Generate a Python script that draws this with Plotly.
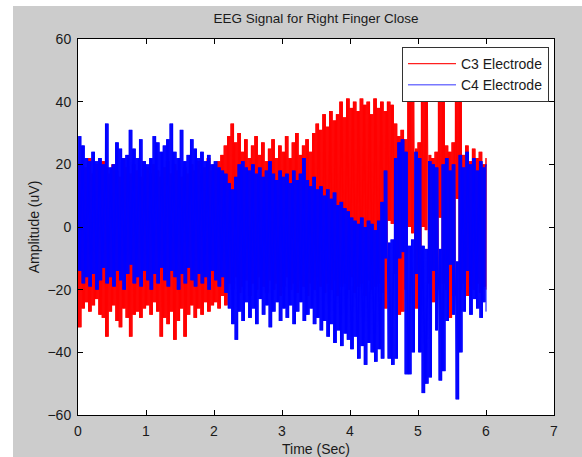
import numpy as np
import plotly.graph_objects as go

# Envelope samples (uV), one per 0.05 s bin, t = 0 .. 6 s
bin_step = 0.05

c3_hi = [20, 18, 19, 22, 17, 20, 18, 21, 19, 17,
         20, 18, 16, 22, 19, 17, 20, 18, 16, 21,
         19, 17, 20, 18, 16, 19, 21, 17, 20, 18,
         16, 19, 17, 20, 18, 21, 17, 19, 22, 18,
         20, 21, 23, 26, 29, 33, 27, 30, 24, 28,
         22, 26, 29, 23, 27, 21, 25, 28, 22, 26,
         24, 29, 22, 27, 30, 23, 26, 28, 24, 30,
         33, 31, 36, 32, 37, 34, 36, 40, 35, 41,
         38, 40, 37, 41, 39, 40, 36, 41, 38, 40,
         37, 40, 39, 33, 29, 31, 28, 43, 42, 25,
         27, 45, 44, 23, 22, 24, 43, 42, 26, 24,
         27, 45, 44, 23, 26, 21, 25, 22, 24, 20,
         22]

c3_lo = [-32, -26, -24, -27, -25, -23, -28, -29, -35, -27,
         -25, -30, -32, -26, -29, -35, -28, -27, -29, -26,
         -25, -28, -24, -27, -35, -29, -31, -27, -36, -30,
         -26, -35, -28, -25, -29, -26, -28, -24, -27, -25,
         -24, -26, -22, -25, -18, -20, -16, -21, -19, -17,
         -22, -18, -20, -16, -19, -21, -17, -20, -18, -22,
         -19, -16, -20, -18, -21, -17, -19, -22, -18, -20,
         -16, -19, -21, -18, -20, -17, -22, -19, -18, -20,
         -16, -21, -19, -18, -22, -17, -20, -19, -18, -21,
         -26, 2, 1, -15, -28, -27, -20, 0, -2, -26,
         -20, 0, -1, -18, -24, -20, 3, -18, -20, -29,
         -22, 9, -20, -18, -22, -19, -20, -18, -21, -19,
         -20]

c4_hi = [29, 26, 22, 21, 24, 21, 22, 20, 33, 19,
         20, 27, 25, 22, 23, 31, 25, 22, 28, 21,
         20, 22, 29, 27, 24, 26, 28, 33, 24, 22,
         31, 21, 23, 28, 25, 22, 24, 21, 23, 20,
         21, 19, 18, 17, 14, 12, 16, 20, 21, 19,
         18, 20, 17, 19, 16, 18, 21, 17, 15, 18,
         16, 17, 14, 18, 15, 17, 22, 15, 13, 16,
         12, 13, 10, 12, 9, 11, 7, 8, 6, 5,
         3, 2, 1, 3, 0, 2, 1, -1, 2, 8,
         18, -5, -4, 22, 27, 28, 24, -6, -4, 24,
         22, -6, -7, 21, 20, 19, -7, 20, 22, 18,
         20, -11, 23, 19, 24, 20, 22, 18, 21, 19,
         20]

c4_lo = [-14, -18, -16, -19, -15, -20, -17, -13, -18, -16,
         -19, -14, -17, -20, -15, -12, -18, -16, -19, -14,
         -17, -20, -15, -18, -13, -17, -19, -14, -16, -20,
         -15, -18, -13, -17, -19, -15, -18, -16, -20, -14,
         -17, -19, -16, -21, -26, -31, -36, -27, -30, -24,
         -29, -26, -31, -23, -28, -25, -32, -27, -24, -30,
         -26, -29, -25, -31, -27, -24, -30, -28, -26, -31,
         -29, -33, -30, -35, -31, -37, -33, -38, -34, -36,
         -39, -35, -42, -38, -44, -37, -40, -43, -39, -42,
         -10, -42, -44, -42, -10, -8, -47, -47, -40, -15,
         -40, -53, -50, -48, -14, -33, -49, -46, -30, -12,
         -28, -55, -40, -27, -14, -28, -23, -26, -29, -24,
         -27]

x_ticks = [0, 1, 2, 3, 4, 5, 6, 7]
y_ticks = [-60, -40, -20, 0, 20, 40, 60]

for arr in (c3_hi, c3_lo, c4_hi, c4_lo):
    assert len(arr) == 121

CYCLES = 4  # oscillations drawn inside each 0.05 s bin between its read envelope values


def zigzag(hi, lo, shift):
    n = len(hi)
    t = np.arange(n) * bin_step
    sub = bin_step / CYCLES
    xs, ys = [], []
    for i in range(n):
        for k in range(CYCLES):
            xs += [t[i] + shift + k * sub, t[i] + shift + (k + 0.5) * sub]
            ys += [hi[i], lo[i]]
    return np.clip(np.array(xs), 0, 6.0), np.array(ys)


FONT = "Liberation Sans, Arial, sans-serif"
TXT = "#1a1a1a"

fig = go.Figure()
x3, y3 = zigzag(c3_hi, c3_lo, 0.0)
x4, y4 = zigzag(c4_hi, c4_lo, 0.004)
fig.add_trace(go.Scatter(x=x3, y=y3, mode="lines", line=dict(color="#ff0000", width=1),
                         name="C3 Electrode", showlegend=False, hoverinfo="skip"))
fig.add_trace(go.Scatter(x=x4, y=y4, mode="lines", line=dict(color="#0000ff", width=1),
                         name="C4 Electrode", showlegend=False, hoverinfo="skip"))
# legend entries
fig.add_trace(go.Scatter(x=[None], y=[None], mode="lines", line=dict(color="#ff2020", width=1.3),
                         name="C3 Electrode"))
fig.add_trace(go.Scatter(x=[None], y=[None], mode="lines", line=dict(color="#7878ff", width=1.6),
                         name="C4 Electrode"))

axis_common = dict(
    showline=True, linecolor="black", linewidth=1, mirror="ticks",
    ticks="inside", ticklen=5, tickcolor="black", tickwidth=1,
    showgrid=False, zeroline=False, automargin=False,
    tickfont=dict(family=FONT, size=14, color=TXT),
    ticklabelstandoff=3,
)

fig.update_xaxes(range=[0, 7], tickvals=x_ticks, **axis_common,
                 title=dict(text="Time (Sec)", font=dict(family=FONT, size=14, color=TXT), standoff=6))
fig.update_yaxes(range=[-60, 60], tickvals=y_ticks, **axis_common,
                 title=dict(text="Amplitude (uV)", font=dict(family=FONT, size=14, color=TXT), standoff=4))

L, R, T, B = 78, 554, 39, 415
W, H = R - L, B - T


def px(xp):
    return (xp - L) / W


def py(yp):
    return (B - yp) / H


fig.update_layout(
    width=582, height=457, autosize=False,
    margin=dict(l=L, r=582 - R, t=T, b=457 - B, pad=0, autoexpand=False),
    paper_bgcolor="#cccccc", plot_bgcolor="white",
    title=dict(text="EEG Signal for Right Finger Close", x=0.5, xref="paper",
               y=1 - 18 / 457, yref="container", yanchor="middle", xanchor="center",
               font=dict(family=FONT, size=13.5, color=TXT)),
    legend=dict(x=px(549), y=py(47), xanchor="right", yanchor="top",
                bgcolor="white", bordercolor="#333333", borderwidth=1,
                font=dict(family=FONT, size=14, color=TXT),
                itemwidth=48, tracegroupgap=0),
    shapes=[
        dict(type="rect", xref="paper", yref="paper", x0=-0.3, x1=px(13), y0=-0.3, y1=1.3,
             fillcolor="white", line=dict(width=0), layer="below"),
        dict(type="rect", xref="paper", yref="paper", x0=-0.3, x1=1.3, y0=py(6), y1=1.3,
             fillcolor="white", line=dict(width=0), layer="below"),
    ],
)

fig.write_html("out.html")
